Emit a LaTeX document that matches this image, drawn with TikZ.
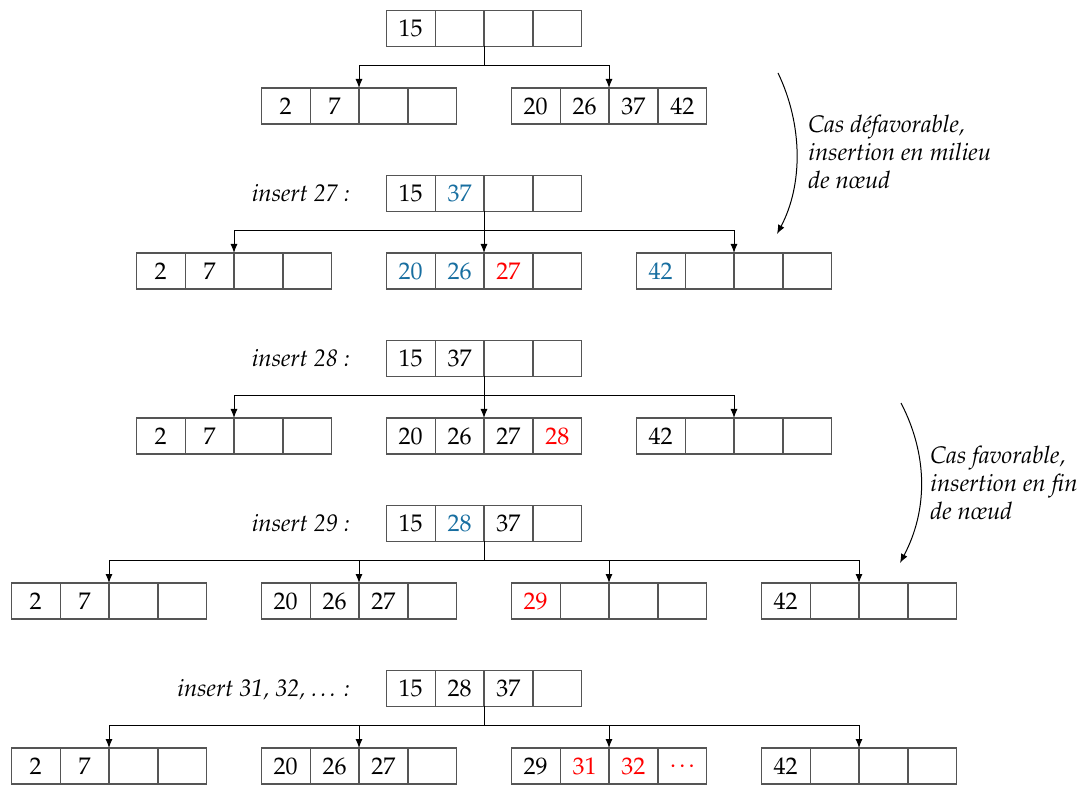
\documentclass[tikz,border=0pt]{standalone}
\usepackage[T1]{fontenc}
\usepackage{mathpazo}
\usetikzlibrary{arrows.meta}
\definecolor{tblue}{RGB}{23,110,160}
\definecolor{cellgray}{RGB}{85,85,85}
\tikzset{
  cell/.style={draw=cellgray, line width=0.6pt, minimum width=24.45pt,
    minimum height=18pt, inner sep=0pt, outer sep=0pt, anchor=west,
    font=\fontsize{12}{14.5}\selectfont},
  edge/.style={draw=black, line width=0.5pt, -{Latex[length=4.5pt,width=3.5pt]}},
  curv/.style={draw=black, line width=0.5pt, -{Latex[length=4.5pt,width=3.5pt]}},
  lbl/.style={font=\fontsize{12}{14.5}\selectfont\itshape, inner sep=0pt},
}
\newcommand\btnode[7]{%
  \node[cell,anchor=north west] (#1-1) at (#2,#3) {#4};
  \node[cell] (#1-2) at (#1-1.east) {#5};
  \node[cell] (#1-3) at (#1-2.east) {#6};
  \node[cell] (#1-4) at (#1-3.east) {#7};
}
\newcommand\tb[1]{\textcolor{tblue}{#1}}
\newcommand\tr[1]{\textcolor{red}{#1}}
\newcommand\mydots{.\kern1.6pt.\kern1.6pt.}
\begin{document}
\begin{tikzpicture}[x=0.5pt,y=-0.5pt]
\useasboundingbox (0,0) rectangle (1081,785);

% tree 0
\btnode{r0}{386.2}{10.3}{15}{}{}{}
\btnode{a0}{261.2}{88}{2}{7}{}{}
\btnode{b0}{511.2}{88}{20}{26}{37}{42}
\draw[edge] (r0-2.south east) -- ++(0,19.5) -| (a0-2.north east);
\draw[edge] (r0-2.south east) -- ++(0,19.5) -| (b0-2.north east);

% tree 1
\btnode{r1}{386.2}{175.3}{15}{\tb{37}}{}{}
\btnode{a1}{136.2}{253}{2}{7}{}{}
\btnode{b1}{386.2}{253}{\tb{20}}{\tb{26}}{\tr{27}}{}
\btnode{c1}{636.2}{253}{\tb{42}}{}{}{}
\draw[edge] (r1-2.south east) -- ++(0,19.5) -| (a1-2.north east);
\draw[edge] (r1-2.south east) -- (b1-2.north east);
\draw[edge] (r1-2.south east) -- ++(0,19.5) -| (c1-2.north east);
\node[lbl,anchor=base east] (l1) at ([xshift=-18pt]r1-1.base west) {insert 27 :};

% tree 2
\btnode{r2}{386.2}{340.3}{15}{37}{}{}
\btnode{a2}{136.2}{418}{2}{7}{}{}
\btnode{b2}{386.2}{418}{20}{26}{27}{\tr{28}}
\btnode{c2}{636.2}{418}{42}{}{}{}
\draw[edge] (r2-2.south east) -- ++(0,19.5) -| (a2-2.north east);
\draw[edge] (r2-2.south east) -- (b2-2.north east);
\draw[edge] (r2-2.south east) -- ++(0,19.5) -| (c2-2.north east);
\node[lbl,anchor=base east] (l2) at ([xshift=-18pt]r2-1.base west) {insert 28 :};

% tree 3
\btnode{r3}{386.2}{505.3}{15}{\tb{28}}{37}{}
\btnode{a3}{11.2}{583}{2}{7}{}{}
\btnode{b3}{261.2}{583}{20}{26}{27}{}
\btnode{c3}{511.2}{583}{\tr{29}}{}{}{}
\btnode{d3}{761.2}{583}{42}{}{}{}
\draw[edge] (r3-2.south east) -- ++(0,19.5) -| (a3-2.north east);
\draw[edge] (r3-2.south east) -- ++(0,19.5) -| (b3-2.north east);
\draw[edge] (r3-2.south east) -- ++(0,19.5) -| (c3-2.north east);
\draw[edge] (r3-2.south east) -- ++(0,19.5) -| (d3-2.north east);
\node[lbl,anchor=base east] (l3) at ([xshift=-18pt]r3-1.base west) {insert 29 :};

% tree 4
\btnode{r4}{386.2}{670.3}{15}{28}{37}{}
\btnode{a4}{11.2}{748}{2}{7}{}{}
\btnode{b4}{261.2}{748}{20}{26}{27}{}
\btnode{c4}{511.2}{748}{29}{\tr{31}}{\tr{32}}{\tr{\mydots}}
\btnode{d4}{761.2}{748}{42}{}{}{}
\draw[edge] (r4-2.south east) -- ++(0,19.5) -| (a4-2.north east);
\draw[edge] (r4-2.south east) -- ++(0,19.5) -| (b4-2.north east);
\draw[edge] (r4-2.south east) -- ++(0,19.5) -| (c4-2.north east);
\draw[edge] (r4-2.south east) -- ++(0,19.5) -| (d4-2.north east);
\node[lbl,anchor=base east] (l4) at ([xshift=-18pt]r4-1.base west) {insert 31, 32, \mydots\hspace{4pt}:};

% comments
\coordinate (s1) at (778,73);
\coordinate (e1) at (777,234);
\draw[curv] (s1) .. controls (803,125) and (803,185) .. (e1);
\node[lbl,anchor=base west] (t1a) at (808,133) {Cas d\'efavorable,};
\node[lbl,anchor=base west] (t1b) at (808,161) {insertion en milieu};
\node[lbl,anchor=base west] (t1c) at (808,189) {de n\oe ud};

\coordinate (s2) at (901,403);
\coordinate (e2) at (900,563);
\draw[curv] (s2) .. controls (928,455) and (928,510) .. (e2);
\node[lbl,anchor=base west] (t2a) at (930,464) {Cas favorable,};
\node[lbl,anchor=base west] (t2b) at (930,492) {insertion en fin};
\node[lbl,anchor=base west] (t2c) at (930,520) {de n\oe ud};
\end{tikzpicture}
\end{document}
